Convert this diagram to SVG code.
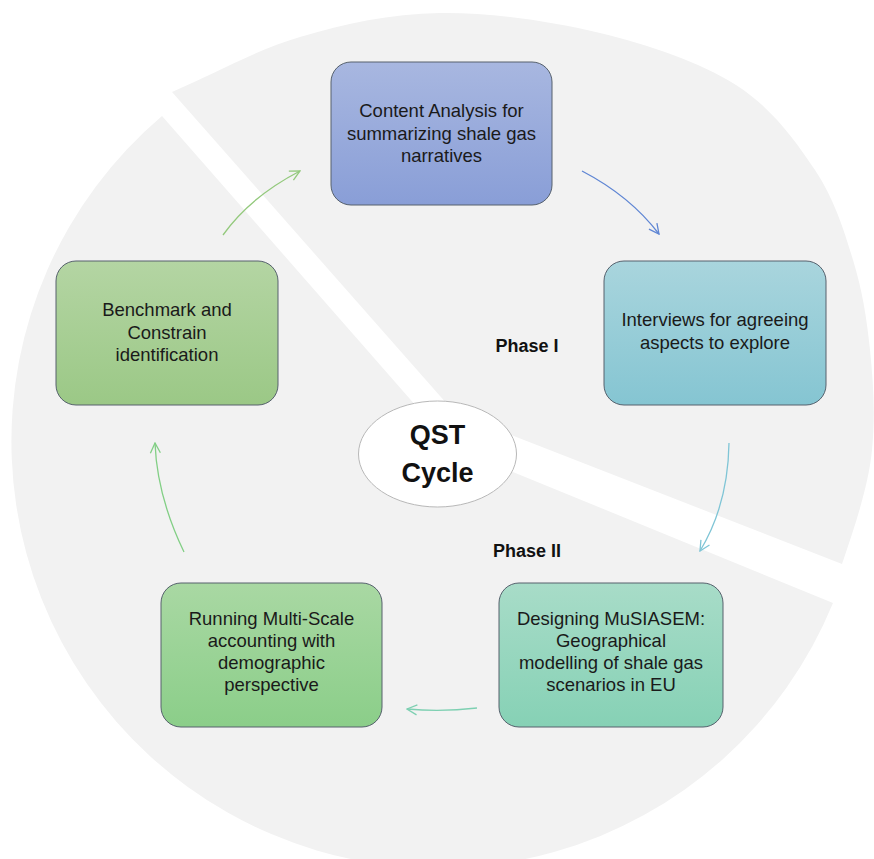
<svg xmlns="http://www.w3.org/2000/svg" width="874" height="859" viewBox="0 0 874 859">
  <defs>
    <style>
      .piece { fill: #f2f2f2; stroke: none; }
      .box { stroke: #56616d; stroke-width: 1; }
      .lbl { font-family: "Liberation Sans", Arial, sans-serif; font-size: 18.5px; fill: #1a1a1a; text-anchor: middle; }
      .phase { font-family: "Liberation Sans", Arial, sans-serif; font-size: 18px; font-weight: bold; fill: #111; text-anchor: middle; }
      .title { font-family: "Liberation Sans", Arial, sans-serif; font-size: 27px; font-weight: bold; fill: #111; text-anchor: middle; }
      .conn { fill: none; stroke-width: 1.3; }
    </style>
    <linearGradient id="gBlue" x1="0" y1="0" x2="0" y2="1"><stop offset="0" stop-color="#a8b7e0"/><stop offset="1" stop-color="#899ed7"/></linearGradient>
    <linearGradient id="gTeal" x1="0" y1="0" x2="0" y2="1"><stop offset="0" stop-color="#a9d5dd"/><stop offset="1" stop-color="#85c5d2"/></linearGradient>
    <linearGradient id="gMint" x1="0" y1="0" x2="0" y2="1"><stop offset="0" stop-color="#a8dcc8"/><stop offset="1" stop-color="#86d1b5"/></linearGradient>
    <linearGradient id="gGreen" x1="0" y1="0" x2="0" y2="1"><stop offset="0" stop-color="#a9d8a3"/><stop offset="1" stop-color="#8bce89"/></linearGradient>
    <linearGradient id="gOlive" x1="0" y1="0" x2="0" y2="1"><stop offset="0" stop-color="#b4d5a3"/><stop offset="1" stop-color="#9bc886"/></linearGradient>
    <marker id="aBlue" viewBox="0 0 12 12" refX="11" refY="6" markerWidth="12" markerHeight="12" markerUnits="userSpaceOnUse" orient="auto"><path d="M1,1 L11,6 L1,11" fill="none" stroke="#5f86d4" stroke-width="1.3"/></marker>
    <marker id="aTeal" viewBox="0 0 12 12" refX="11" refY="6" markerWidth="12" markerHeight="12" markerUnits="userSpaceOnUse" orient="auto"><path d="M1,1 L11,6 L1,11" fill="none" stroke="#7fc5d6" stroke-width="1.3"/></marker>
    <marker id="aMint" viewBox="0 0 12 12" refX="11" refY="6" markerWidth="12" markerHeight="12" markerUnits="userSpaceOnUse" orient="auto"><path d="M1,1 L11,6 L1,11" fill="none" stroke="#7ed0b2" stroke-width="1.3"/></marker>
    <marker id="aGreen" viewBox="0 0 12 12" refX="11" refY="6" markerWidth="12" markerHeight="12" markerUnits="userSpaceOnUse" orient="auto"><path d="M1,1 L11,6 L1,11" fill="none" stroke="#82cf85" stroke-width="1.3"/></marker>
    <marker id="aOlive" viewBox="0 0 12 12" refX="11" refY="6" markerWidth="12" markerHeight="12" markerUnits="userSpaceOnUse" orient="auto"><path d="M1,1 L11,6 L1,11" fill="none" stroke="#93c97c" stroke-width="1.3"/></marker>
  </defs>

  <rect x="0" y="0" width="874" height="859" fill="#ffffff"/>

  <g id="background">
    <path class="piece" d="M 452 447 L 162 116 A 426.7 426.7 0 1 0 833 603 Z"/>
    <path class="piece" d="M 455 413 L 172 92 C 214.7 73.7 255.3 50.2 300 37 C 344.7 23.8 390 13.7 440 13 C 490 12.3 550.7 21 600 33 C 649.3 45 700.2 62.2 736 85 C 771.8 107.8 795.5 140.8 815 170 C 834.5 199.2 843.8 230 853 260 C 862.2 290 866.8 318.3 870 350 C 873.2 381.7 875.5 414.3 872 450 C 868.5 485.7 855 526 842 564 Z"/>
  </g>

  <g id="connectors">
    <path class="conn" stroke="#5f86d4" d="M 582 171 Q 630 196 659 234" marker-end="url(#aBlue)"/>
    <path class="conn" stroke="#7fc5d6" d="M 729 443 Q 728 505 700 551" marker-end="url(#aTeal)"/>
    <path class="conn" stroke="#7ed0b2" d="M 477 708 Q 442 712 407 709" marker-end="url(#aMint)"/>
    <path class="conn" stroke="#82cf85" d="M 184 552 Q 157 496 155 443" marker-end="url(#aGreen)"/>
    <path class="conn" stroke="#93c97c" d="M 223 235 Q 250 197 300 171" marker-end="url(#aOlive)"/>
  </g>

  <g id="node-content">
    <rect class="box" x="331" y="62" width="221" height="143" rx="20" fill="url(#gBlue)"/>
    <text class="lbl" x="441.5" y="117">Content Analysis for</text>
    <text class="lbl" x="441.5" y="139.5">summarizing shale gas</text>
    <text class="lbl" x="441.5" y="162">narratives</text>
  </g>

  <g id="node-interviews">
    <rect class="box" x="604" y="261" width="222" height="144" rx="20" fill="url(#gTeal)"/>
    <text class="lbl" x="715" y="326">Interviews for agreeing</text>
    <text class="lbl" x="715" y="348.5">aspects to explore</text>
  </g>

  <g id="node-designing">
    <rect class="box" x="499" y="583" width="224" height="144" rx="20" fill="url(#gMint)"/>
    <text class="lbl" x="611" y="625">Designing MuSIASEM:</text>
    <text class="lbl" x="611" y="647">Geographical</text>
    <text class="lbl" x="611" y="669">modelling of shale gas</text>
    <text class="lbl" x="611" y="691">scenarios in EU</text>
  </g>

  <g id="node-running">
    <rect class="box" x="161" y="583" width="221" height="144" rx="20" fill="url(#gGreen)"/>
    <text class="lbl" x="271.5" y="625">Running Multi-Scale</text>
    <text class="lbl" x="271.5" y="647">accounting with</text>
    <text class="lbl" x="271.5" y="669">demographic</text>
    <text class="lbl" x="271.5" y="691">perspective</text>
  </g>

  <g id="node-benchmark">
    <rect class="box" x="56" y="261" width="222" height="144" rx="20" fill="url(#gOlive)"/>
    <text class="lbl" x="167" y="316">Benchmark and</text>
    <text class="lbl" x="167" y="338.5">Constrain</text>
    <text class="lbl" x="167" y="361">identification</text>
  </g>

  <g id="label-phase1">
    <text class="phase" x="527" y="352">Phase I</text>
  </g>
  <g id="label-phase2">
    <text class="phase" x="527" y="557">Phase II</text>
  </g>

  <g id="node-qst">
    <ellipse cx="437.5" cy="454" rx="79" ry="53" fill="#ffffff" stroke="#b8b8b8" stroke-width="1"/>
    <text class="title" x="437.5" y="444">QST</text>
    <text class="title" x="437.5" y="482">Cycle</text>
  </g>
</svg>
